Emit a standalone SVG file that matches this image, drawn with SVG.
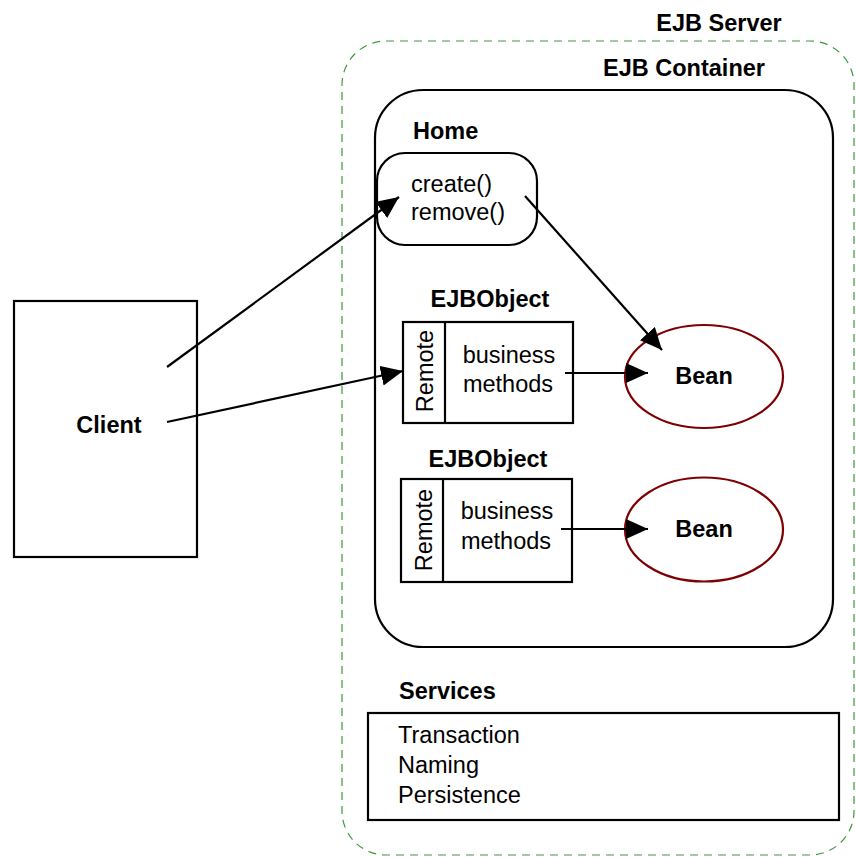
<svg xmlns="http://www.w3.org/2000/svg" width="856" height="857" viewBox="0 0 856 857">
  <defs>
    <style>
      .box { fill: #ffffff; stroke: #000000; stroke-width: 2.2; }
      .bean { fill: #ffffff; stroke: #7f0000; stroke-width: 2.2; }
      .server { fill: none; stroke: #3c9a3c; stroke-width: 1.2; stroke-dasharray: 8 6; }
      .lbl { font-family: "Liberation Sans", Arial, sans-serif; font-size: 23.5px; fill: #000000; }
      .b { font-weight: bold; }
      .mid { text-anchor: middle; }
      .conn { stroke: #000000; stroke-width: 2.2; fill: none; marker-end: url(#arrow); }
    </style>
    <marker id="arrow" markerUnits="userSpaceOnUse" markerWidth="24" markerHeight="22" refX="22" refY="10" orient="auto">
      <path d="M0,0 L22,10 L0,20 z" fill="#000000"/>
    </marker>
  </defs>

  <rect width="856" height="857" fill="#ffffff"/>

  <!-- EJB server boundary -->
  <g id="ejb-server">
    <rect class="server" x="342" y="41" width="512" height="814" rx="44" ry="44"/>
    <text class="lbl b mid" x="719" y="31">EJB Server</text>
  </g>

  <!-- EJB container -->
  <g id="ejb-container">
    <rect class="box" x="375" y="90" width="458" height="557" rx="48" ry="48"/>
    <text class="lbl b mid" x="684" y="76">EJB Container</text>
  </g>

  <!-- Home interface -->
  <g id="home">
    <text class="lbl b" x="413" y="139">Home</text>
    <rect class="box" x="377" y="153" width="160" height="92" rx="28" ry="28"/>
    <text class="lbl" x="411" y="192">create()</text>
    <text class="lbl" x="411" y="220">remove()</text>
  </g>

  <!-- Client -->
  <g id="client">
    <rect class="box" x="14" y="301" width="183" height="256"/>
    <text class="lbl b mid" x="109" y="433">Client</text>
  </g>

  <!-- EJBObject #1 -->
  <g id="ejbobject-1">
    <text class="lbl b mid" x="490" y="307">EJBObject</text>
    <rect class="box" x="403" y="322" width="170" height="101"/>
    <line x1="445" y1="322" x2="445" y2="423" stroke="#000" stroke-width="2.2"/>
    <text class="lbl mid" transform="translate(433,371) rotate(-90)">Remote</text>
    <text class="lbl mid" x="509" y="363">business</text>
    <text class="lbl mid" x="508" y="392">methods</text>
  </g>

  <!-- EJBObject #2 -->
  <g id="ejbobject-2">
    <text class="lbl b mid" x="488" y="467">EJBObject</text>
    <rect class="box" x="401" y="479" width="171" height="103"/>
    <line x1="443" y1="479" x2="443" y2="582" stroke="#000" stroke-width="2.2"/>
    <text class="lbl mid" transform="translate(432,530) rotate(-90)">Remote</text>
    <text class="lbl mid" x="507" y="519">business</text>
    <text class="lbl mid" x="506" y="549">methods</text>
  </g>

  <!-- Beans -->
  <g id="bean-1">
    <ellipse class="bean" cx="704" cy="376.5" rx="79" ry="51.5"/>
    <text class="lbl b mid" x="704" y="384">Bean</text>
  </g>
  <g id="bean-2">
    <ellipse class="bean" cx="704" cy="529.5" rx="79" ry="52"/>
    <text class="lbl b mid" x="704" y="537">Bean</text>
  </g>

  <!-- Services -->
  <g id="services">
    <text class="lbl b" x="399" y="699">Services</text>
    <rect class="box" x="368" y="713" width="471" height="107"/>
    <text class="lbl" x="398" y="743">Transaction</text>
    <text class="lbl" x="398" y="773">Naming</text>
    <text class="lbl" x="398" y="803">Persistence</text>
  </g>

  <!-- Connectors -->
  <g id="connectors">
    <line class="conn" x1="167" y1="367" x2="399" y2="197"/>
    <line class="conn" x1="167" y1="422" x2="403" y2="371"/>
    <line class="conn" x1="525" y1="196" x2="662" y2="350"/>
    <line class="conn" x1="565" y1="373" x2="648" y2="373"/>
    <line class="conn" x1="561" y1="529" x2="648" y2="529"/>
  </g>
</svg>
